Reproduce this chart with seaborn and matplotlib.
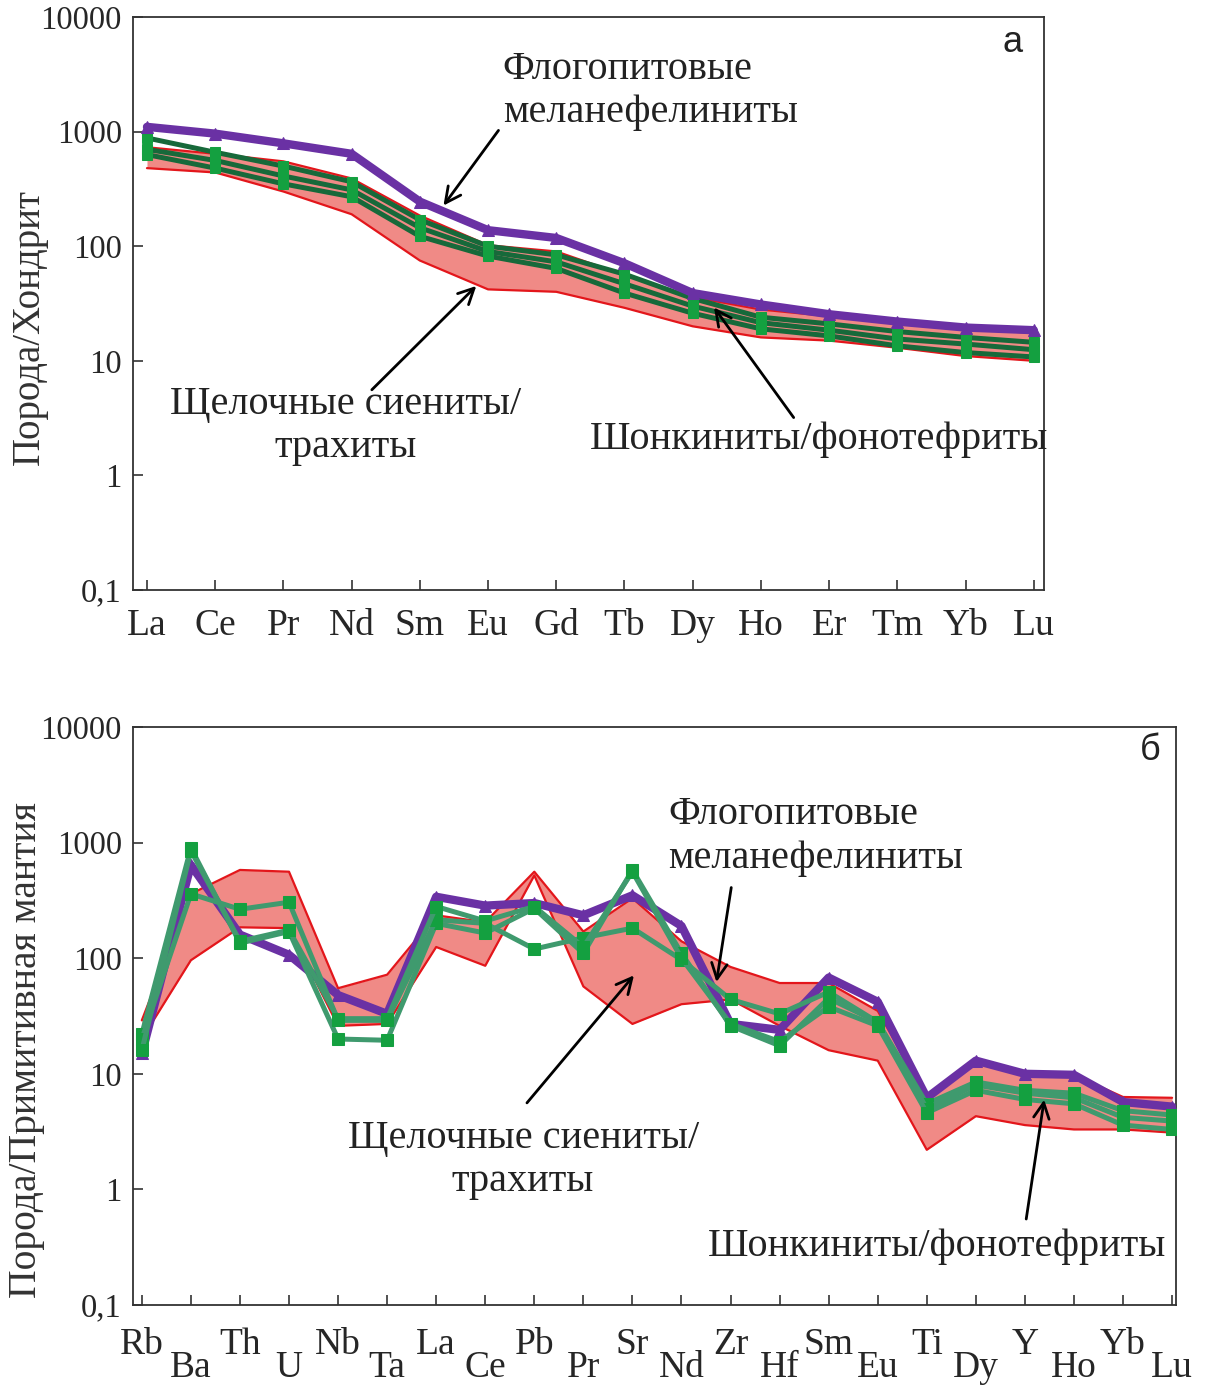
import numpy as np
import matplotlib
matplotlib.use("Agg")
import matplotlib.pyplot as plt
from matplotlib.ticker import NullLocator
import seaborn as sns

# ---------------- data ----------------
ree = ["La", "Ce", "Pr", "Nd", "Sm", "Eu", "Gd", "Tb", "Dy", "Ho", "Er", "Tm", "Yb", "Lu"]
a_phlog = [1100, 960, 790, 640, 245, 138, 118, 71, 39, 31, 25.5, 22, 19.5, 18.5]
a_shonk1 = [880, 660, 500, 365, 170, 100, 84, 57, 35, 24, 21, 18, 16, 14.5]
a_shonk2 = [700, 560, 410, 310, 145, 90, 73, 47, 30, 21.5, 18.5, 15.5, 14, 12.5]
a_shonk3 = [630, 480, 350, 270, 122, 82, 64, 39, 26, 19, 16.5, 13.5, 11.8, 10.8]
a_sy_upper = [730, 640, 550, 390, 185, 102, 90, 56, 36, 28, 24.5, 21.5, 19, 17.5]
a_sy_lower = [480, 440, 300, 190, 75, 42, 40, 29, 20, 16, 15, 13, 11, 10]

spider = ["Rb", "Ba", "Th", "U", "Nb", "Ta", "La", "Ce", "Pb", "Pr", "Sr", "Nd",
          "Zr", "Hf", "Sm", "Eu", "Ti", "Dy", "Y", "Ho", "Yb", "Lu"]
b_phlog = [15, 640, 160, 107, 48, 33, 340, 285, 300, 235, 350, 190, 27, 24, 68, 42, 6.2, 13, 10, 9.8, 5.7, 5.2]
b_shonk1 = [22, 900, 135, 170, 20, 19.5, 200, 165, 270, 110, 580, 110, 26, 17.5, 45, 28, 5.5, 8.5, 7.2, 6.8, 4.8, 4.4]
b_shonk2 = [20, 360, 265, 305, 29, 29, 215, 200, 120, 150, 182, 97, 44, 33, 51, 28, 5.0, 8.0, 6.8, 6.2, 4.2, 3.9]
b_shonk3 = [16, 850, 140, 175, 30, 30, 280, 210, 280, 125, 560, 100, 27, 19, 38, 26, 4.6, 7.2, 6.0, 5.5, 3.6, 3.3]
b_sy_upper = [29, 360, 580, 560, 55, 72, 235, 205, 560, 170, 330, 140, 84, 61, 61, 35, 6.3, 12.5, 10, 9.8, 6.3, 6.2]
b_sy_lower = [20, 96, 185, 182, 26, 27, 125, 86, 520, 57, 27, 40, 44, 26, 16, 13, 2.2, 4.3, 3.6, 3.3, 3.3, 3.1]

y_ticks = [0.1, 1, 10, 100, 1000, 10000]
y_ticklabels = ["0,1", "1", "10", "100", "1000", "10000"]

# ---------------- style ----------------
sns.set_theme(style="white")
plt.rcParams['font.family'] = ['Liberation Serif', 'DejaVu Serif']

PURPLE = "#6a31a4"
GREEN_A = "#17693a"
GREEN_B = "#3f9a6e"
MARK = "#14a040"
FILL = "#f08a86"
EDGE = "#e3161b"
TXT = "#222222"

fig = plt.figure(figsize=(12.11, 13.88), dpi=100)
ax1 = fig.add_axes([133/1211, 1-590/1388, 911/1211, 573/1388])
ax2 = fig.add_axes([133/1211, 1-1305/1388, 1043/1211, 578/1388])

for ax in (ax1, ax2):
    ax.set_yscale('log')
    for sp in ax.spines.values():
        sp.set_color('#333333')
        sp.set_linewidth(1.3)

# ---------------- panel a ----------------
xa = np.arange(len(ree))
ax1.fill_between(xa, a_sy_lower, a_sy_upper, color=FILL, lw=0, zorder=1)
for s in (a_sy_upper, a_sy_lower):
    sns.lineplot(x=xa, y=s, ax=ax1, color=EDGE, linewidth=1.6, zorder=2)
for s in (a_shonk1, a_shonk2, a_shonk3):
    sns.lineplot(x=xa, y=s, ax=ax1, color=GREEN_A, linewidth=3.6, marker='s',
                 markersize=7, markerfacecolor=MARK, markeredgecolor=MARK, zorder=3)
sns.lineplot(x=xa, y=a_phlog, ax=ax1, color=PURPLE, linewidth=6, marker='^',
             markersize=9, markerfacecolor=PURPLE, markeredgecolor=PURPLE, zorder=4)

ax1.set_xlim(-0.205, 13.15)
ax1.set_ylim(0.1, 10000)
ax1.set_xticks(xa, labels=ree)
ax1.set_yticks(y_ticks, labels=y_ticklabels)
ax1.yaxis.set_minor_locator(NullLocator())
ax1.xaxis.set_minor_locator(NullLocator())
ax1.tick_params(axis='both', which='both', direction='in', length=7, width=1.2,
                color='#333333', left=True, bottom=True)
ax1.tick_params(axis='x', labelsize=27, pad=13)
ax1.tick_params(axis='y', labelsize=23.5, pad=8)
ax1.set_xlabel("")
ax1.set_ylabel("Порода/Хондрит", fontsize=28, color='#333333')
ax1.yaxis.set_label_coords(-0.093, 0.459)

txt_kw = dict(fontsize=29, color=TXT, transform=ax1.transAxes, linespacing=1.22)
ax1.text(0.406, 0.871, "Флогопитовые\nмеланефелиниты", ha='left', va='center', **txt_kw)
ax1.text(0.233, 0.286, "Щелочные сиениты/\nтрахиты", ha='center', va='center',
         multialignment='center', **txt_kw)
ax1.text(0.502, 0.262, "Шонкиниты/фонотефриты", ha='left', va='center', **txt_kw)
ax1.text(0.965, 0.956, "а", ha='center', va='center', fontsize=26,
         family=['Liberation Sans', 'DejaVu Sans'], color=TXT, transform=ax1.transAxes)

arr = dict(arrowstyle="->", lw=2.0, color='black', mutation_scale=28)
ax1.annotate("", xy=(0.339, 0.667), xytext=(0.403, 0.806), xycoords='axes fraction',
             textcoords='axes fraction', arrowprops=arr, zorder=6)
ax1.annotate("", xy=(0.379, 0.534), xytext=(0.260, 0.346), xycoords='axes fraction',
             textcoords='axes fraction', arrowprops=arr, zorder=6)
ax1.annotate("", xy=(0.636, 0.497), xytext=(0.727, 0.297), xycoords='axes fraction',
             textcoords='axes fraction', arrowprops=arr, zorder=6)

# ---------------- panel b ----------------
xb = np.arange(len(spider))
ax2.fill_between(xb, b_sy_lower, b_sy_upper, color=FILL, lw=0, zorder=1)
for s in (b_sy_upper, b_sy_lower):
    sns.lineplot(x=xb, y=s, ax=ax2, color=EDGE, linewidth=1.6, zorder=2)
sns.lineplot(x=xb, y=b_phlog, ax=ax2, color=PURPLE, linewidth=6, marker='^',
             markersize=9, markerfacecolor=PURPLE, markeredgecolor=PURPLE, zorder=3)
for s in (b_shonk1, b_shonk2, b_shonk3):
    sns.lineplot(x=xb, y=s, ax=ax2, color=GREEN_B, linewidth=3.6, marker='s',
                 markersize=8, markerfacecolor=MARK, markeredgecolor=MARK, zorder=4)

ax2.set_xlim(-0.18, 21.08)
ax2.set_ylim(0.1, 10000)
ax2.set_xticks(xb[::2], labels=spider[::2])
ax2.set_xticks(xb[1::2], labels=spider[1::2], minor=True)
ax2.set_yticks(y_ticks, labels=y_ticklabels)
ax2.yaxis.set_minor_locator(NullLocator())
ax2.tick_params(axis='both', which='both', direction='in', length=7, width=1.2,
                color='#333333', left=True, bottom=True)
ax2.tick_params(axis='x', which='major', labelsize=27, pad=16)
ax2.tick_params(axis='x', which='minor', labelsize=27, pad=33)
ax2.tick_params(axis='y', labelsize=23.5, pad=8)
ax2.set_xlabel("")
ax2.set_ylabel("Порода/Примитивная мантия", fontsize=28.5, color='#333333')
ax2.yaxis.set_label_coords(-0.084, 0.441)

txt_kw2 = dict(fontsize=29, color=TXT, transform=ax2.transAxes, linespacing=1.22)
ax2.text(0.513, 0.8106, "Флогопитовые\nмеланефелиниты", ha='left', va='center', **txt_kw2)
ax2.text(0.374, 0.251, "Щелочные сиениты/\nтрахиты", ha='center', va='center',
         multialignment='center', **txt_kw2)
ax2.text(0.551, 0.102, "Шонкиниты/фонотефриты", ha='left', va='center', **txt_kw2)
ax2.text(0.975, 0.960, "б", ha='center', va='center', fontsize=26,
         family=['Liberation Sans', 'DejaVu Sans'], color=TXT, transform=ax2.transAxes)

ax2.annotate("", xy=(0.559, 0.554), xytext=(0.574, 0.727), xycoords='axes fraction',
             textcoords='axes fraction', arrowprops=arr, zorder=6)
ax2.annotate("", xy=(0.482, 0.574), xytext=(0.376, 0.346), xycoords='axes fraction',
             textcoords='axes fraction', arrowprops=arr, zorder=6)
ax2.annotate("", xy=(0.874, 0.360), xytext=(0.856, 0.144), xycoords='axes fraction',
             textcoords='axes fraction', arrowprops=arr, zorder=6)

fig.savefig("out.png", dpi=100, facecolor='white')
